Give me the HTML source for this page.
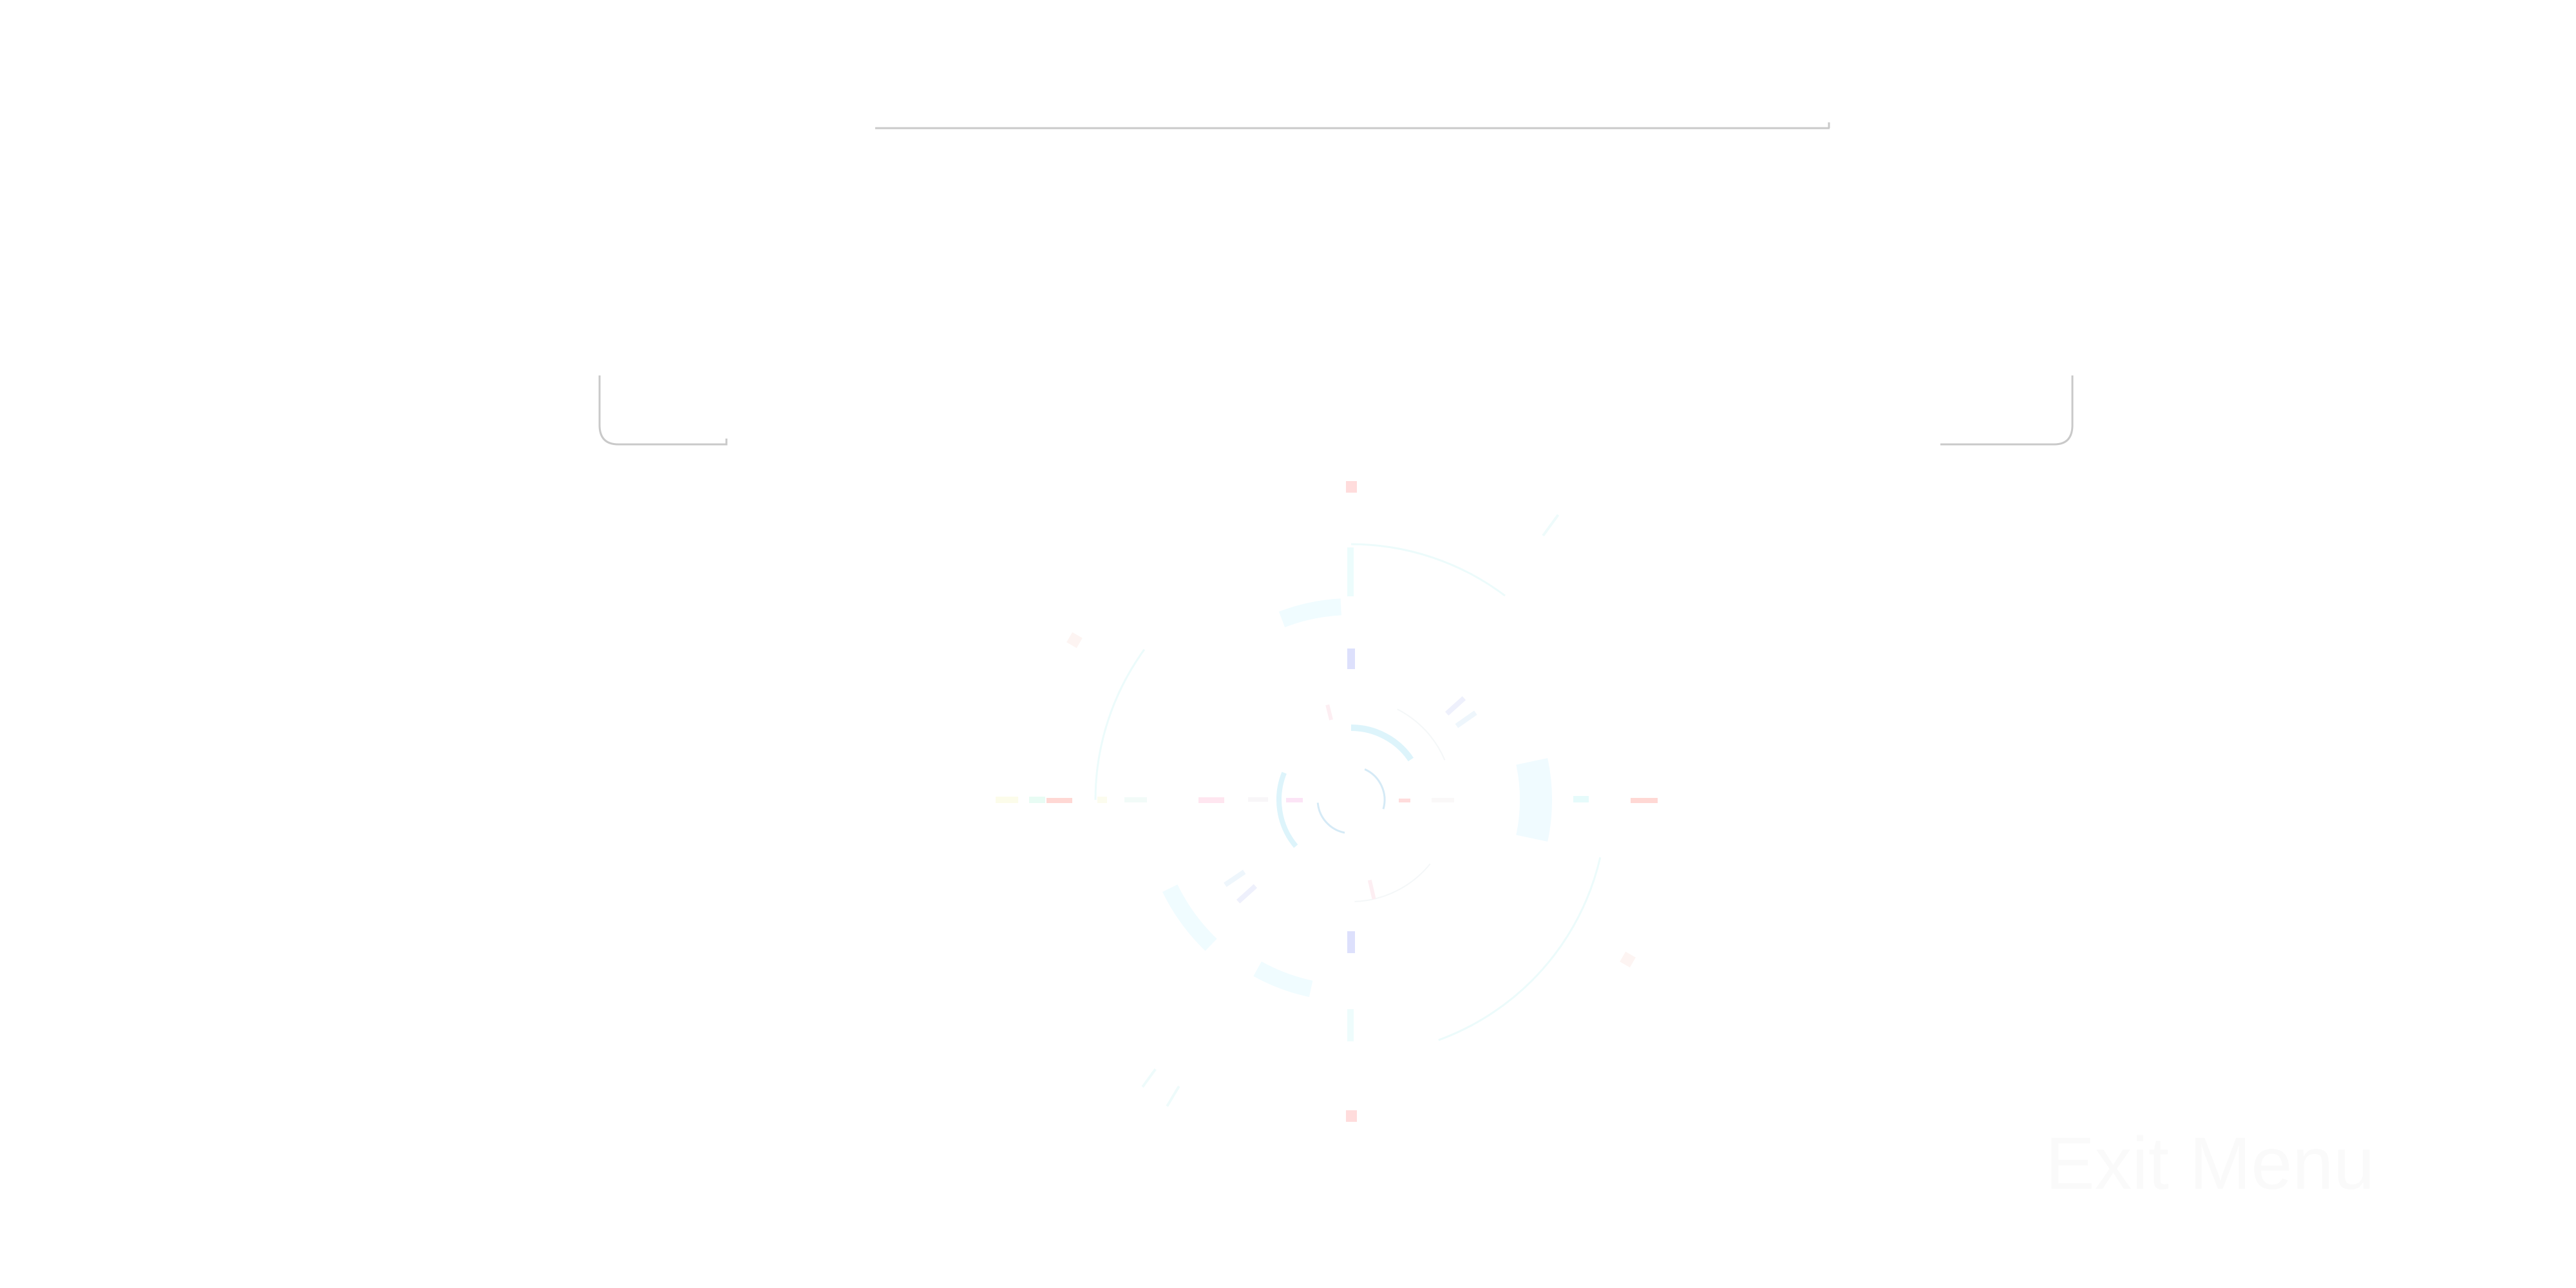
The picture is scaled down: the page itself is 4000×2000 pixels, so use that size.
<!DOCTYPE html>
<html><head><meta charset="utf-8"><style>
html,body{margin:0;padding:0;background:#fff;}
body{width:4000px;height:2000px;position:relative;overflow:hidden;font-family:"Liberation Sans",sans-serif;}
#exit{position:absolute;left:3176px;top:1750px;font-size:115px;line-height:115px;color:#fafafa;white-space:nowrap;cursor:pointer;}
</style></head><body>
<svg width="4000" height="2000" style="position:absolute;left:0;top:0">
  <g stroke="#c9c9c9" stroke-width="3" fill="none">
    <line x1="1359" y1="199" x2="2841" y2="199"/>
    <line x1="2840" y1="199" x2="2840" y2="190"/>
  </g>
  <g stroke="#c9c9c9" stroke-width="3" fill="none">
    <path d="M931 583 L931 660 Q931 690 960 690 L1128 690 L1128 681"/>
  </g>
  <g stroke="#c9c9c9" stroke-width="3" fill="none">
    <path d="M3013 690 L3190 690 Q3218 690 3218 660 L3218 583"/>
  </g>
  <g id="reticle"></g>
</svg>
<div id="exit">Exit Menu</div>
<script>
const cx = 2098, cy = 1242;
// arcs: radius, start angle, end angle (deg, clockwise from up), stroke width, colour
const arcRadius = [397, 397, 397, 300, 300, 313, 112, 112, 52, 52, 158, 158, 287];
const arcStart  = [0, 270, 103, -21, 192, 224, 0, 230, 24, 191, 27, 129, 78];
const arcEnd    = [37, 306, 160, -3, 209, 244, 56, 292, 106, 265, 67, 178, 102];
const arcWidth  = [3, 3, 3, 26, 26, 26, 10, 8, 3, 3, 2, 2, 50];
const arcColor  = ["#ecfbfb","#ecfbfb","#ecfbfb","#f0fcff","#f0fcff","#f0fcff","#ddf4fb","#ddf4fb","#d5eaf6","#d5eaf6","#f4f7f8","#f4f7f8","#f0fbff"];
const g = document.getElementById('reticle');
const NS = 'http://www.w3.org/2000/svg';
function pt(r,a){const t=a*Math.PI/180;return [cx+r*Math.sin(t),cy-r*Math.cos(t)];}
for(let i=0;i<arcRadius.length;i++){
  const [x1,y1]=pt(arcRadius[i],arcStart[i]);const [x2,y2]=pt(arcRadius[i],arcEnd[i]);
  const large=(arcEnd[i]-arcStart[i])>180?1:0;
  const p=document.createElementNS(NS,'path');
  p.setAttribute('d',`M${x1} ${y1} A${arcRadius[i]} ${arcRadius[i]} 0 ${large} 1 ${x2} ${y2}`);
  p.setAttribute('fill','none');p.setAttribute('stroke',arcColor[i]);p.setAttribute('stroke-width',arcWidth[i]);
  
  
  g.appendChild(p);
}
// rect markers: x, y, w, h, colour
const markX = [2090, 2090, 2092, 2092, 1625, 2532, 1861, 1997, 2172, 2443, 1546, 1598, 2092, 2092, 1704, 1746, 1938, 2223];
const markY = [747, 1724, 1007, 1446, 1239, 1239, 1238, 1239, 1240, 1236, 1237, 1237, 850, 1567, 1237, 1238, 1238, 1239];
const markW = [17, 17, 12, 12, 40, 42, 40, 26, 18, 24, 35, 25, 10, 10, 15, 35, 31, 35];
const markH = [18, 18, 32, 34, 8, 8, 9, 7, 6, 10, 10, 10, 76, 50, 10, 8, 7, 7];
const markC = ["#ffdcdc","#ffdcdc","#dde0fc","#dde0fc","#ffd8d4","#ffd8d4","#ffe6f0","#fce4f6","#ffdcdc","#e6fbfb","#fcfcea","#e8fcf4","#ecfcfc","#eefcfc","#fcfcee","#f2fbf8","#f8f6f8","#faf8f8"];
for(let i=0;i<markX.length;i++){
  const r=document.createElementNS(NS,'rect');
  r.setAttribute('x',markX[i]);r.setAttribute('y',markY[i]);r.setAttribute('width',markW[i]);r.setAttribute('height',markH[i]);
  r.setAttribute('fill',markC[i]);
  
  
  g.appendChild(r);
}
// tick dashes at angles: radius inner, outer, angle, width, colour
const tickR1 = [200, 200, 200, 200, 507, 517, 519, 128, 128, 487, 487];
const tickR2 = [236, 236, 236, 236, 547, 551, 555, 152, 158, 505, 505];
const tickA  = [48, 55, 228, 236, 36, 216, 211, -14, 167, 300, 120];
const tickW  = [8, 8, 8, 8, 4, 4, 4, 6, 6, 18, 18];
const tickC  = ["#eef0fc","#eef6fc","#eef0fc","#eef6fc","#eefbfb","#eefbfb","#eefbfb","#fdeef2","#fdeef2","#fdf4f2","#fdf4f2"];
for(let i=0;i<tickA.length;i++){
  const [x1,y1]=pt(tickR1[i],tickA[i]);const [x2,y2]=pt(tickR2[i],tickA[i]);
  const l=document.createElementNS(NS,'line');
  l.setAttribute('x1',x1);l.setAttribute('y1',y1);l.setAttribute('x2',x2);l.setAttribute('y2',y2);
  l.setAttribute('stroke',tickC[i]);l.setAttribute('stroke-width',tickW[i]);
  
  
  g.appendChild(l);
}
</script>
</body></html>
